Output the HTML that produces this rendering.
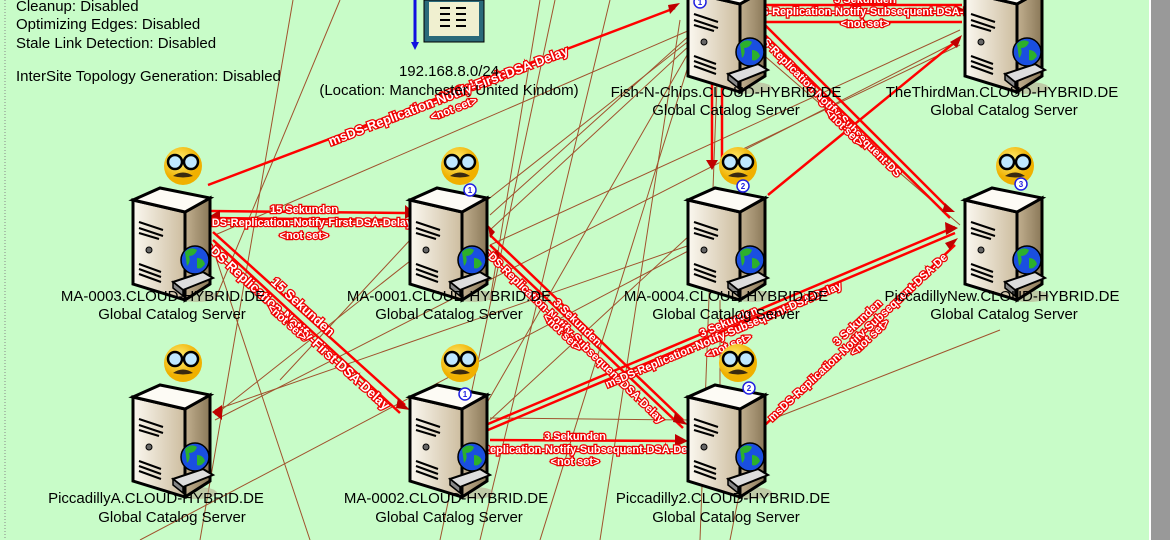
<!DOCTYPE html>
<html><head><meta charset="utf-8"><style>
html,body{margin:0;padding:0;width:1170px;height:540px;overflow:hidden;background:#c8fcc8}
svg{display:block}
.t{font-family:"Liberation Sans",sans-serif;font-size:15px;fill:#000}
.l{font-family:"Liberation Sans",sans-serif;font-size:15px;fill:#000;text-anchor:middle}
.r{font-family:"Liberation Sans",sans-serif;font-weight:bold;font-size:11px;fill:#fff;stroke:#e00;stroke-width:2.5px;paint-order:stroke;text-anchor:middle}
.b{stroke:#a0522d;stroke-width:1;fill:none}
.rd{stroke:#f00;stroke-width:2.5;fill:none}
</style></head><body>
<svg width="1170" height="540" viewBox="0 0 1170 540" xmlns="http://www.w3.org/2000/svg">
<defs>
<linearGradient id="gf" x1="0" x2="1"><stop offset="0" stop-color="#fbf8f0"/><stop offset="1" stop-color="#cdbd9f"/></linearGradient>
<linearGradient id="gs" x1="0" x2="1"><stop offset="0" stop-color="#c2b090"/><stop offset="1" stop-color="#8a7858"/></linearGradient>
<radialGradient id="gy" cx="0.4" cy="0.35"><stop offset="0" stop-color="#fff27a"/><stop offset="1" stop-color="#f0b000"/></radialGradient>
<g id="srv">
<ellipse cx="64" cy="110" rx="20" ry="6" fill="#b8a890" opacity="0.6"/>
<polygon points="0,14 52,26 52,114 0,98" fill="url(#gf)" stroke="#000" stroke-width="3"/>
<polygon points="52,26 77,12 77,98 52,114" fill="url(#gs)" stroke="#000" stroke-width="3"/>
<polygon points="0,14 27,2 77,12 52,26" fill="#fdfbf5" stroke="#000" stroke-width="3"/>
<path d="M6,36 L30,44 M6,42 L30,50 M6,47 L26,53 M6,78 L28,86 M6,83 L28,91 M6,88 L28,96" stroke="#000" stroke-width="2"/>
<circle cx="16" cy="64" r="3" fill="#666" stroke="#000"/>
<polygon points="40,96 70,86 80,92 50,104" fill="#ddd" stroke="#000" stroke-width="2"/>
<polygon points="40,96 50,104 50,110 40,102" fill="#888" stroke="#000" stroke-width="1.5"/>
<circle cx="62" cy="74" r="14" fill="#1a4fe0" stroke="#000" stroke-width="1.5"/>
<path d="M52,66 q6,-6 12,-2 q-2,6 -8,6 q2,6 -2,10z M64,72 q6,0 8,6 q-4,6 -8,4z" fill="#2cb02c"/>
<circle cx="50" cy="-20" r="19" fill="url(#gy)"/>
<circle cx="42" cy="-24" r="7" fill="#bfe8ff" stroke="#000" stroke-width="2.5"/>
<circle cx="58" cy="-24" r="7" fill="#bfe8ff" stroke="#000" stroke-width="2.5"/>
<path d="M40,-10 q10,-7 20,0 q-10,3 -20,0z" fill="#3a2a10"/>
</g>
<g id="bd"><circle r="6" fill="#fff" stroke="#2020e0" stroke-width="1.5"/></g>
</defs>
<rect x="0" y="0" width="1170" height="540" fill="#c8fcc8"/>
<line x1="5" y1="0" x2="5" y2="540" stroke="#888" stroke-dasharray="1,2"/>
<rect x="1151" y="0" width="19" height="540" fill="#999"/>
<line x1="1150" y1="0" x2="1150" y2="540" stroke="#fff" stroke-width="2"/>

<g class="b">
<line x1="293" y1="0" x2="200" y2="540"/>
<line x1="340" y1="0" x2="215" y2="300"/>
<line x1="540" y1="0" x2="490" y2="300"/>
<line x1="555" y1="0" x2="440" y2="540"/>
<line x1="610" y1="0" x2="480" y2="540"/>
<line x1="600" y1="540" x2="680" y2="20"/>
<line x1="690" y1="30" x2="215" y2="235"/>
<line x1="690" y1="35" x2="490" y2="215"/>
<line x1="690" y1="45" x2="490" y2="230"/>
<line x1="690" y1="40" x2="215" y2="415"/>
<line x1="690" y1="50" x2="480" y2="415"/>
<line x1="690" y1="60" x2="540" y2="540"/>
<line x1="960" y1="30" x2="490" y2="245"/>
<line x1="960" y1="40" x2="215" y2="420"/>
<line x1="960" y1="45" x2="720" y2="160"/>
<line x1="690" y1="245" x2="215" y2="410"/>
<line x1="690" y1="235" x2="490" y2="420"/>
<line x1="690" y1="250" x2="140" y2="540"/>
<line x1="700" y1="0" x2="960" y2="225"/>
<line x1="210" y1="240" x2="310" y2="540"/>
<line x1="690" y1="420" x2="490" y2="418"/>
<line x1="720" y1="300" x2="720" y2="390"/>
<line x1="730" y1="540" x2="750" y2="440"/>
<line x1="410" y1="240" x2="280" y2="380"/>
<line x1="720" y1="0" x2="700" y2="540"/>
<line x1="1000" y1="330" x2="770" y2="420"/>
</g>

<g class="rd">
<line x1="208" y1="185" x2="675" y2="8"/>
<line x1="210" y1="211" x2="405" y2="213"/>
<line x1="210" y1="218" x2="405" y2="220"/>
<line x1="213" y1="232" x2="405" y2="405"/>
<line x1="213" y1="240" x2="400" y2="413"/>
<line x1="490" y1="235" x2="683" y2="420"/>
<line x1="490" y1="245" x2="683" y2="428"/>
<line x1="490" y1="440" x2="683" y2="441"/>
<line x1="488" y1="424" x2="955" y2="227"/>
<line x1="488" y1="430" x2="955" y2="233"/>
<line x1="765" y1="425" x2="955" y2="245"/>
<line x1="712" y1="80" x2="712" y2="165"/>
<line x1="722" y1="82" x2="722" y2="165"/>
<line x1="765" y1="5" x2="962" y2="5"/>
<line x1="765" y1="22" x2="962" y2="22"/>
<line x1="765" y1="25" x2="950" y2="210"/>
<line x1="765" y1="35" x2="950" y2="218"/>
<line x1="768" y1="195" x2="960" y2="38"/>
</g>
<g fill="#c00000">
<polygon points="405,205 415,213 405,219"/><polygon points="220,210 210,216 220,222"/>
<polygon points="398,398 410,410 396,408"/><polygon points="675,412 688,425 673,422"/>
<polygon points="675,434 688,441 675,447"/><polygon points="945,222 958,228 946,235"/>
<polygon points="945,243 958,238 950,250"/><polygon points="955,5 965,10 955,15"/>
<polygon points="945,203 955,212 942,212"/><polygon points="950,42 962,35 957,48"/>
<polygon points="706,160 712,170 718,160"/><polygon points="495,232 488,225 490,238"/>
<polygon points="222,405 212,412 222,420"/><polygon points="498,250 488,255 500,258"/>
<polygon points="668,5 680,3 670,14"/>
</g>

<text class="r" transform="translate(478,88) rotate(-21)" style="font-size:13px">15 Sekunden</text>
<text class="r" transform="translate(450,100) rotate(-21)" style="font-size:13px">msDS-Replication-Notify-First-DSA-Delay</text>
<text class="r" transform="translate(455,112) rotate(-21)">&lt;not set&gt;</text>
<text class="r" x="304" y="213">15 Sekunden</text>
<text class="r" x="304" y="226">msDS-Replication-Notify-First-DSA-Delay</text>
<text class="r" x="304" y="239">&lt;not set&gt;</text>
<text class="r" transform="translate(300,310) rotate(42)" style="font-size:13px">15 Sekunden</text>
<text class="r" transform="translate(290,325) rotate(42)" style="font-size:13px">msDS-Replication-Notify-First-DSA-Delay</text>
<text class="r" transform="translate(285,325) rotate(42)">&lt;not set&gt;</text>
<text class="r" transform="translate(575,325) rotate(44)">3 Sekunden</text>
<text class="r" transform="translate(568,335) rotate(44)">msDS-Replication-Notify-Subsequent-DSA-Delay</text>
<text class="r" transform="translate(560,335) rotate(44)">&lt;not set&gt;</text>
<text class="r" x="575" y="440">3 Sekunden</text>
<text class="r" x="575" y="453">msDS-Replication-Notify-Subsequent-DSA-Delay</text>
<text class="r" x="575" y="465">&lt;not set&gt;</text>
<text class="r" transform="translate(730,325) rotate(-23)">3 Sekunden</text>
<text class="r" transform="translate(725,338) rotate(-23)">msDS-Replication-Notify-Subsequent-DSA-Delay</text>
<text class="r" transform="translate(730,349) rotate(-23)">&lt;not set&gt;</text>
<text class="r" transform="translate(860,325) rotate(-43)">3 Sekunden</text>
<text class="r" transform="translate(860,340) rotate(-43)">msDS-Replication-Notify-Subsequent-DSA-De</text>
<text class="r" transform="translate(872,340) rotate(-43)">&lt;not set&gt;</text>
<text class="r" x="865" y="3">3 Sekunden</text>
<text class="r" x="865" y="15">msDS-Replication-Notify-Subsequent-DSA-Delay</text>
<text class="r" x="865" y="27">&lt;not set&gt;</text>
<text class="r" transform="translate(840,125) rotate(45)">3 Sekunden</text>
<text class="r" transform="translate(840,125) rotate(45)" dy="-3" dx="-30">msDS-Replication-Notify-Subsequent-DS</text>
<text class="r" transform="translate(842,130) rotate(45)">&lt;not set&gt;</text>

<text class="t" x="16" y="11">Cleanup: Disabled</text>
<text class="t" x="16" y="29">Optimizing Edges: Disabled</text>
<text class="t" x="16" y="48">Stale Link Detection: Disabled</text>
<text class="t" x="16" y="81">InterSite Topology Generation: Disabled</text>
<line x1="415" y1="0" x2="415" y2="44" stroke="#1010e0" stroke-width="3"/>
<polygon points="411,42 419,42 415,50" fill="#1010e0"/>
<rect x="424" y="0" width="60" height="42" fill="#2a6a7a" stroke="#000"/>
<rect x="429" y="2" width="50" height="34" fill="#f0f0d0"/>
<g stroke="#000" stroke-width="2"><line x1="440" y1="8" x2="450" y2="8"/><line x1="440" y1="14" x2="450" y2="14"/><line x1="440" y1="20" x2="450" y2="20"/><line x1="440" y1="26" x2="450" y2="26"/><line x1="456" y1="8" x2="466" y2="8"/><line x1="456" y1="14" x2="466" y2="14"/><line x1="456" y1="20" x2="466" y2="20"/><line x1="456" y1="26" x2="466" y2="26"/></g>
<text class="l" x="449" y="76">192.168.8.0/24</text>
<text class="l" x="449" y="95">(Location: Manchester, United Kindom)</text>

<use href="#srv" x="133" y="186"/>
<use href="#srv" x="410" y="186"/><use href="#bd" x="470" y="190"/>
<use href="#srv" x="688" y="186"/><use href="#bd" x="743" y="186"/>
<use href="#srv" x="965" y="186"/><use href="#bd" x="1021" y="184"/>
<use href="#srv" x="688" y="-22"/><use href="#bd" x="700" y="2"/>
<use href="#srv" x="965" y="-22"/>
<use href="#srv" x="133" y="383"/>
<use href="#srv" x="410" y="383"/><use href="#bd" x="465" y="394"/>
<use href="#srv" x="688" y="383"/><use href="#bd" x="749" y="388"/>
<g font-family="Liberation Sans" font-size="8" font-weight="bold" fill="#2020e0" text-anchor="middle">
<text x="470" y="193">1</text><text x="743" y="189">2</text><text x="1021" y="187">3</text><text x="700" y="5">1</text><text x="465" y="397">1</text><text x="749" y="391">2</text></g>

<text class="l" x="163" y="301">MA-0003.CLOUD-HYBRID.DE</text><text class="l" x="172" y="319">Global Catalog Server</text>
<text class="l" x="449" y="301">MA-0001.CLOUD-HYBRID.DE</text><text class="l" x="449" y="319">Global Catalog Server</text>
<text class="l" x="726" y="301">MA-0004.CLOUD-HYBRID.DE</text><text class="l" x="726" y="319">Global Catalog Server</text>
<text class="l" x="1002" y="301">PiccadillyNew.CLOUD-HYBRID.DE</text><text class="l" x="1004" y="319">Global Catalog Server</text>
<text class="l" x="726" y="97">Fish-N-Chips.CLOUD-HYBRID.DE</text><text class="l" x="726" y="115">Global Catalog Server</text>
<text class="l" x="1002" y="97">TheThirdMan.CLOUD-HYBRID.DE</text><text class="l" x="1004" y="115">Global Catalog Server</text>
<text class="l" x="156" y="503">PiccadillyA.CLOUD-HYBRID.DE</text><text class="l" x="172" y="522">Global Catalog Server</text>
<text class="l" x="446" y="503">MA-0002.CLOUD-HYBRID.DE</text><text class="l" x="449" y="522">Global Catalog Server</text>
<text class="l" x="723" y="503">Piccadilly2.CLOUD-HYBRID.DE</text><text class="l" x="726" y="522">Global Catalog Server</text>
</svg>
</body></html>
